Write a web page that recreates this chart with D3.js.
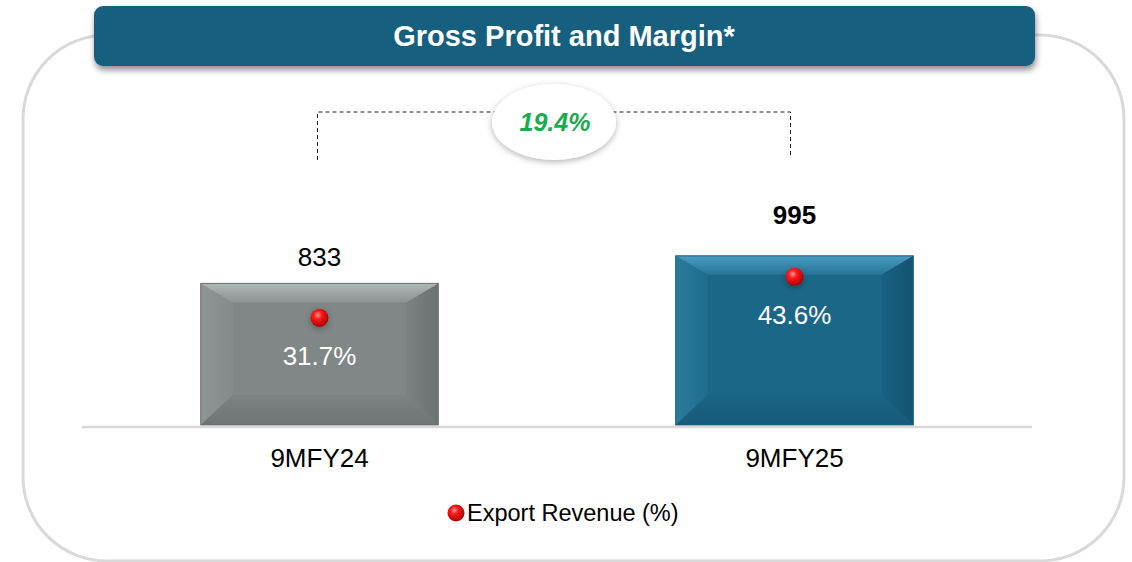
<!DOCTYPE html>
<html>
<head>
<meta charset="utf-8">
<script src="https://cdn.jsdelivr.net/npm/d3@7"></script>
<style>
  body { margin: 0; background: #fff; }
  svg { display: block; font-family: "Liberation Sans", Arial, sans-serif; }
</style>
</head>
<body>
<div id="chart"></div>
<script>
// data
var categories = ["9MFY24", "9MFY25"];
var grossProfit = [833, 995];
var exportShare = [31.7, 43.6];
var growthLabel = "19.4%";
var chartTitle = "Gross Profit and Margin*";
var legendLabel = "Export Revenue (%)";

var width = 1132, height = 562;

var svg = d3.select("#chart").append("svg")
    .attr("width", width)
    .attr("height", height);

var defs = svg.append("defs");

// shadows
var sh = defs.append("filter").attr("id", "shadow")
    .attr("x", "-10%").attr("y", "-30%").attr("width", "120%").attr("height", "180%");
sh.append("feDropShadow").attr("dx", 1).attr("dy", 4).attr("stdDeviation", 3)
    .attr("flood-color", "#000").attr("flood-opacity", 0.45);

var sh2 = defs.append("filter").attr("id", "softshadow")
    .attr("x", "-30%").attr("y", "-30%").attr("width", "160%").attr("height", "170%");
sh2.append("feDropShadow").attr("dx", 0).attr("dy", 2).attr("stdDeviation", 3)
    .attr("flood-color", "#000").attr("flood-opacity", 0.3);

// red ball gradient
var ball = defs.append("radialGradient").attr("id", "ball")
    .attr("cx", "40%").attr("cy", "35%").attr("r", "65%");
ball.append("stop").attr("offset", "0%").attr("stop-color", "#ff9a9a");
ball.append("stop").attr("offset", "35%").attr("stop-color", "#ff1a1a");
ball.append("stop").attr("offset", "100%").attr("stop-color", "#a80000");

// bar colour sets
var palettes = [
  { face: "#808786", top: "#b0b6b5", left: "#8e9594", right: "#6a7170", bottom: "#6e7574", edge: "#6a7170" },
  { face: "#1b6788", top: "#4a9cc2", left: "#2b7b9d", right: "#135471", bottom: "#175b79", edge: "#1a5b78" }
];

function bevelGrad(id, from, to, dir) {
  var g = defs.append("linearGradient").attr("id", id);
  var v = { top: [0, 0, 0, 1], bottom: [0, 1, 0, 0], left: [0, 0, 1, 0], right: [1, 0, 0, 0] }[dir];
  g.attr("x1", v[0]).attr("y1", v[1]).attr("x2", v[2]).attr("y2", v[3]);
  g.append("stop").attr("offset", "0%").attr("stop-color", from);
  g.append("stop").attr("offset", "100%").attr("stop-color", to);
}
palettes.forEach(function(p, i) {
  ["top", "bottom", "left", "right"].forEach(function(s) {
    bevelGrad("bev" + i + s, p[s], d3.interpolateRgb(p[s], p.face)(0.75), s);
  });
});

// outer rounded frame
var frame = { x0: 23, y0: 35, x1: 1124, y1: 561, r: 84 };
svg.append("path")
    .attr("d", "M" + frame.x0 + "," + (frame.y1 - frame.r) +
      " L" + frame.x0 + "," + (frame.y0 + frame.r) +
      " A" + frame.r + "," + frame.r + " 0 0 1 " + (frame.x0 + frame.r) + "," + frame.y0 +
      " L" + (frame.x1 - frame.r) + "," + frame.y0 +
      " A" + frame.r + "," + frame.r + " 0 0 1 " + frame.x1 + "," + (frame.y0 + frame.r) +
      " L" + frame.x1 + "," + (frame.y1 - frame.r) +
      " A" + frame.r + "," + frame.r + " 0 0 1 " + (frame.x1 - frame.r) + "," + frame.y1 +
      " L" + (frame.x0 + frame.r) + "," + frame.y1 +
      " A" + frame.r + "," + frame.r + " 0 0 1 " + frame.x0 + "," + (frame.y1 - frame.r) + " Z")
    .attr("fill", "none")
    .attr("stroke", "#d9d9d9")
    .attr("stroke-width", 3);

// header
svg.append("rect")
    .attr("x", 94).attr("y", 6)
    .attr("width", 941).attr("height", 60)
    .attr("rx", 9)
    .attr("fill", "#175f7f")
    .attr("filter", "url(#shadow)");

svg.append("text")
    .attr("x", 564).attr("y", 46)
    .attr("text-anchor", "middle")
    .style("font-weight", "bold")
    .style("font-size", "29px")
    .attr("fill", "#fff")
    .text(chartTitle);

// scales
var x = d3.scaleBand()
    .domain(categories)
    .range([82, 1032])
    .paddingInner(0.5)
    .paddingOuter(0.25);

var baseY = 425;
var y = d3.scaleLinear()
    .domain([0, 1000])
    .range([baseY, baseY - 170]);

// secondary scale for the export revenue share markers
var y2 = d3.scaleLinear()
    .domain([0, 100])
    .range([427, 82.5]);

var bars = svg.selectAll(".bar")
    .data(categories)
    .enter().append("g")
    .attr("class", "bar");

bars.each(function(c, i) {
  var g = d3.select(this);
  var p = palettes[i];
  var x0 = x(c), x1 = x(c) + x.bandwidth();
  var y0 = y(grossProfit[i]), y1 = y(0);
  var bx = 32, bt = 19, bb = 30;
  var ix0 = x0 + bx, ix1 = x1 - bx, iy0 = y0 + bt, iy1 = y1 - bb;

  g.append("rect").attr("x", x0).attr("y", y0)
    .attr("width", x1 - x0).attr("height", y1 - y0)
    .attr("fill", p.face);

  var poly = function(pts, fill) {
    g.append("polygon")
      .attr("points", pts.map(function(d) { return d.join(","); }).join(" "))
      .attr("fill", fill);
  };
  poly([[x0, y0], [ix0, iy0], [ix0, iy1], [x0, y1]], "url(#bev" + i + "left)");
  poly([[x1, y0], [x1, y1], [ix1, iy1], [ix1, iy0]], "url(#bev" + i + "right)");
  poly([[x0, y1], [ix0, iy1], [ix1, iy1], [x1, y1]], "url(#bev" + i + "bottom)");
  poly([[x0, y0], [x1, y0], [ix1, iy0], [ix0, iy0]], "url(#bev" + i + "top)");

  g.append("rect").attr("x", x0).attr("y", y0)
    .attr("width", x1 - x0).attr("height", y1 - y0)
    .attr("fill", "none")
    .attr("stroke", p.edge)
    .attr("stroke-width", 1);

  var cx = x0 + x.bandwidth() / 2;
  var my = y2(exportShare[i]);

  // red marker
  g.append("circle")
    .attr("cx", cx).attr("cy", my)
    .attr("r", 9)
    .attr("fill", "url(#ball)")
    .attr("filter", "url(#softshadow)");

  // share label
  g.append("text")
    .attr("x", cx).attr("y", my + 47)
    .attr("text-anchor", "middle")
    .style("font-size", "26px")
    .attr("fill", "#fff")
    .text(exportShare[i].toFixed(1) + "%");
});

// value labels
svg.selectAll(".val")
    .data(categories)
    .enter().append("text")
    .attr("class", "val")
    .attr("x", function(c) { return x(c) + x.bandwidth() / 2; })
    .attr("y", function(c, i) { return y(grossProfit[i]) - (i === 0 ? 17 : 32); })
    .attr("text-anchor", "middle")
    .style("font-size", "26px")
    .style("font-weight", function(c, i) { return i === 1 ? "bold" : "normal"; })
    .attr("fill", "#000")
    .text(function(c, i) { return grossProfit[i]; });

// baseline + category axis
var xAxis = d3.axisBottom(x).tickSize(0).tickPadding(22);
var axisG = svg.append("g")
    .attr("transform", "translate(0," + (baseY + 2) + ")")
    .call(xAxis);
axisG.select(".domain").attr("stroke", "#d9d9d9").attr("stroke-width", 2.5)
    .attr("d", "M82,0H1032");
axisG.selectAll(".tick text")
    .style("font-family", "'Liberation Sans', Arial, sans-serif")
    .style("font-size", "26px")
    .attr("fill", "#000");

// growth bracket
var cxA = x(categories[0]) + x.bandwidth() / 2 - 2;
var cxB = x(categories[1]) + x.bandwidth() / 2 - 4;
svg.append("path")
    .attr("d", "M" + cxA + ",160 V112 H" + cxB + " V158")
    .attr("fill", "none")
    .attr("stroke", "#222")
    .attr("stroke-width", 1)
    .attr("stroke-dasharray", "4,3");

svg.append("ellipse")
    .attr("cx", 554).attr("cy", 122)
    .attr("rx", 62).attr("ry", 38)
    .attr("fill", "#fff")
    .attr("filter", "url(#softshadow)");

svg.append("text")
    .attr("x", 555).attr("y", 131)
    .attr("text-anchor", "middle")
    .style("font-size", "25px")
    .style("font-weight", "bold")
    .style("font-style", "italic")
    .attr("fill", "#1aaa50")
    .text(growthLabel);

// legend
svg.append("circle")
    .attr("cx", 456).attr("cy", 513)
    .attr("r", 8.5)
    .attr("fill", "url(#ball)");
svg.append("text")
    .attr("x", 467).attr("y", 521)
    .style("font-size", "23.5px")
    .attr("fill", "#000")
    .text(legendLabel);
</script>
</body>
</html>
